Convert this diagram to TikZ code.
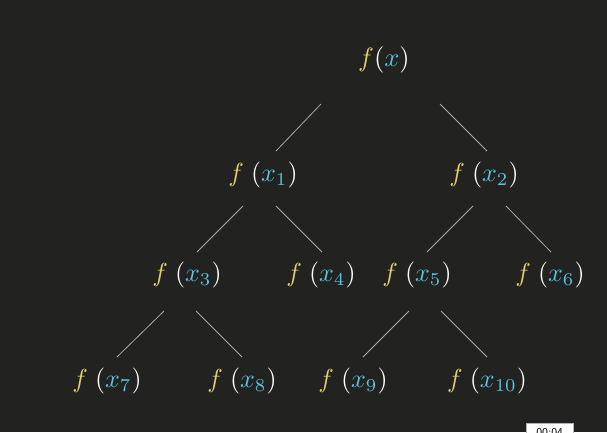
\documentclass[tikz,border=0pt]{standalone}
\usepackage{graphicx}
\usetikzlibrary{calc}
\definecolor{bg}{HTML}{222320}
\definecolor{fy}{HTML}{E3D06C}
\definecolor{xb}{HTML}{58C4DD}
\definecolor{ln}{HTML}{A8A8A8}
\newcommand{\fxroot}{\scalebox{2.65}{$\color{fy}f\color{white}(\color{xb}x\color{white})$}}
\newcommand{\fx}[1]{\scalebox{2.6}{$\color{fy}f\;\color{white}(\color{xb}x_{#1}\color{white})$}}
\begin{document}
\begin{tikzpicture}[x=1pt,y=-1pt,
  term/.style={inner sep=0pt,text=white},
  edge/.style={draw=ln,line width=0.8pt}]
\fill[bg] (0,0) rectangle (607,432);
\useasboundingbox (0,0) rectangle (607,432);
\node[term] (r) at (384,60) {\fxroot};
\node[term] (a) at (263,175) {\fx{1}};
\node[term] (b) at (484,175) {\fx{2}};
\node[term] (c) at (187,275) {\fx{3}};
\node[term] (d) at (321,275) {\fx{4}};
\node[term] (e) at (417,275) {\fx{5}};
\node[term] (g) at (550,275) {\fx{6}};
\node[term] (h) at (107,381) {\fx{7}};
\node[term] (i) at (242,381) {\fx{8}};
\node[term] (j) at (353,381) {\fx{9}};
\node[term] (k) at (487,381) {\fx{10}};
\draw[edge] ($(r)+(-63,44)$) -- ($(a)+(13,-24)$);
\draw[edge] ($(r)+(56,44)$) -- ($(b)+(3,-24)$);
\draw[edge] ($(a)+(-20,31)$) -- ($(c)+(10,-23)$);
\draw[edge] ($(a)+(13,31)$) -- ($(d)+(1,-23)$);
\draw[edge] ($(b)+(-11,31)$) -- ($(e)+(10,-23)$);
\draw[edge] ($(b)+(22,31)$) -- ($(g)+(1,-23)$);
\draw[edge] ($(c)+(-23,36)$) -- ($(h)+(10,-24)$);
\draw[edge] ($(c)+(9,36)$) -- ($(i)+(0,-24)$);
\draw[edge] ($(e)+(-8,36)$) -- ($(j)+(10,-24)$);
\draw[edge] ($(e)+(24,36)$) -- ($(k)+(0,-24)$);
\begin{scope}
\clip (0,0) rectangle (607,432);
\node[fill=white,draw=black!30,line width=0.4pt,minimum width=47pt,minimum height=20pt,inner sep=0pt,anchor=north west] (ts) at (526,423) {};
\node[font=\sffamily\fontsize{12}{14}\selectfont,anchor=north,inner sep=0pt] (tt) at ($(ts.north)+(0,5)$) {00:04};
\end{scope}
\end{tikzpicture}
\end{document}
